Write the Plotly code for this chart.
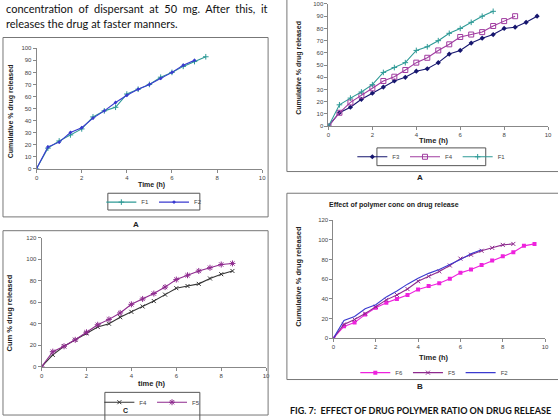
import plotly.graph_objects as go

W, H = 558, 420

# ---------------- data ----------------
t_half = [0, 0.5, 1, 1.5, 2, 2.5, 3, 3.5, 4, 4.5, 5, 5.5, 6, 6.5, 7, 7.5, 8, 8.5, 9, 9.5]

# Panel top-left (F1, F2)
tl_F1 = [0, 17, 23, 28, 33, 43, 48, 51, 62, 66, 70, 76, 80, 85, 89, 93]
tl_F2 = [0, 18, 22, 30, 34, 42, 48, 55, 61, 66, 70, 75, 80, 86, 90]

# Panel top-right (F3, F4, F1)
tr_F3 = [0, 11, 15.5, 22, 27, 32, 37, 40, 45, 47, 52, 59, 62, 68, 72, 75, 80, 81, 85, 90]
tr_F4 = [0, 11, 19.5, 25, 31, 37, 40.5, 46, 52, 56, 62, 67, 73, 75, 77, 82, 86, 90]
tr_F1 = [0, 17.5, 23, 28, 34, 44, 48, 52, 62, 65, 70, 76, 80, 85, 90, 94]

# Panel bottom-left (F4, F5)
bl_F4 = [0, 11, 19, 25, 31, 37, 40, 46, 51, 56, 61, 67, 73, 75, 77, 82, 86, 89]
bl_F5 = [0, 14, 19, 25, 32, 39, 44, 50, 58, 63, 68, 74, 81, 85, 89, 92, 95, 96]

# Panel bottom-right (F6, F5, F2)
br_F6 = [0, 12, 16, 24, 31, 36, 40, 44, 49.5, 53, 56, 60.5, 66.5, 70, 74.5, 79, 83.5, 87.5, 94, 96]
br_F5 = [0, 14, 19, 25, 32, 39, 44, 50, 58, 63, 68, 74, 81, 85, 89, 92, 95, 96]
br_F2 = [0, 18, 22, 30, 34, 42, 48, 55, 61, 66, 70, 75, 80, 86, 90]

x_ticks = [0, 2, 4, 6, 8, 10]


def px(x):
    return x / W


def py(y):
    return 1 - y / H


fig = go.Figure()

TEAL = "#2E9A96"
BLUE = "#3A3ACF"
NAVY = "#16166E"
PURP = "#A03CA0"
MAG = "#EE22DD"
DARK = "#333333"
PURP2 = "#8E2A8E"


def add(y, name, color, ax, legend, symbol=None, msize=4, mline=False):
    xs = t_half[:len(y)]
    mode = "lines+markers" if symbol else "lines"
    marker = dict(symbol=symbol or "circle", size=msize, color=color)
    if mline:
        marker["line"] = dict(width=1, color=color)
    if symbol and "open" in symbol:
        marker["line"] = dict(width=1, color=color)
    fig.add_trace(go.Scatter(x=xs, y=y, name=name, mode=mode,
                             line=dict(color=color, width=1.1),
                             marker=marker,
                             xaxis="x" + ax, yaxis="y" + ax, legend=legend))


add(tl_F1, "F1", TEAL, "", "legend", "cross-thin", 4, mline=True)
add(tl_F2, "F2", BLUE, "", "legend", "diamond", 3)

add(tr_F3, "F3", NAVY, "2", "legend2", "diamond", 4)
add(tr_F4, "F4", PURP, "2", "legend2", "square-open", 5)
add(tr_F1, "F1", TEAL, "2", "legend2", "cross-thin", 4, mline=True)

add(bl_F4, "F4", DARK, "3", "legend3", "x-thin", 4, mline=True)
add(bl_F5, "F5", PURP2, "3", "legend3", "asterisk", 5, mline=True)

add(br_F6, "F6", MAG, "4", "legend4", "square", 4)
add(br_F5, "F5", PURP2, "4", "legend4", "x-thin", 4, mline=True)
add(br_F2, "F2", BLUE, "4", "legend4", None)

tickfont = dict(family="Liberation Sans, Arial", size=6, color="#444")


def xaxis(x0, x1, anchor):
    return dict(domain=[px(x0), px(x1)], range=[0, 10], tickvals=x_ticks,
                showline=True, linecolor="#888", linewidth=1, ticks="outside",
                ticklen=3, tickcolor="#888", tickfont=tickfont, showgrid=False,
                zeroline=False, anchor=anchor, fixedrange=True)


def yaxis(y0, y1, top, dtick, anchor):
    return dict(domain=[py(y0), py(y1)], range=[0, top], dtick=dtick,
                showline=True, linecolor="#888", linewidth=1, ticks="outside",
                ticklen=3, tickcolor="#888", tickfont=tickfont, showgrid=False,
                zeroline=False, anchor=anchor, fixedrange=True)


layout = dict(
    width=W, height=H, margin=dict(l=0, r=0, t=0, b=0),
    paper_bgcolor="white", plot_bgcolor="white", showlegend=True,
    xaxis=xaxis(35, 263, "y"), yaxis=yaxis(168, 46, 100, 10, "x"),
    xaxis2=xaxis(330, 552, "y2"), yaxis2=yaxis(125, 1, 100, 10, "x2"),
    xaxis3=xaxis(40, 267, "y3"), yaxis3=yaxis(369, 238, 120, 20, "x3"),
    xaxis4=xaxis(335, 549, "y4"), yaxis4=yaxis(340, 220.5, 120, 20, "x4"),
)

legfont = dict(family="Liberation Sans, Arial", size=6, color="#444")


def leg(xc, yc):
    return dict(x=px(xc), y=py(yc), xanchor="center", yanchor="middle",
                orientation="h", font=legfont, bgcolor="rgba(0,0,0,0)",
                itemwidth=30, tracegroupgap=0, borderwidth=0)


layout["legend"] = leg(154, 202)
layout["legend2"] = leg(434, 156)
layout["legend3"] = leg(152, 405)
layout["legend4"] = leg(437, 375)
fig.update_layout(**layout)

# ---------------- boxes ----------------
shapes = []


def rect(x0, y0, x1, y1, color="#777", width=1):
    shapes.append(dict(type="rect", xref="paper", yref="paper",
                       x0=px(x0), x1=px(x1), y0=py(y0), y1=py(y1),
                       line=dict(color=color, width=width)))


rect(1, 35, 269, 217)
rect(288, -5, 565, 171)
rect(1, 231, 269, 418)
rect(288, 193, 565, 382)
rect(107, 193, 200, 210, "#555")
rect(379, 147, 489, 165, "#555")
rect(104, 395, 200, 425, "#555")
fig.update_layout(shapes=shapes)

# ---------------- texts ----------------
ann = []


def text(x, y, s, size=7, bold=False, angle=0, xanchor="center", family="Liberation Sans, Arial", color="#222"):
    ann.append(dict(xref="paper", yref="paper", x=px(x), y=py(y), text=("<b>%s</b>" % s) if bold else s,
                    showarrow=False, xanchor=xanchor, yanchor="middle", textangle=angle,
                    font=dict(size=size, family=family, color=color)))


body = "Lato, Carlito, Liberation Sans"
text(2, 6, "concentration  of  dispersant  at  50  mg.  After  this,  it", 11, xanchor="left", family=body, color="#111")
text(2, 21, "releases the drug at faster manners.", 11, xanchor="left", family=body, color="#111")

# axis titles
text(10, 110, "Cumulative % drug released", 7, True, -90)
text(151, 185, "Time (h)", 7, True)
text(300, 66, "Cumulative % drug released", 7, True, -90)
text(437, 139, "Time (h)", 7.5, True)
text(8, 314, "Cum % drug released", 7.5, True, -90)
text(152, 386, "time (h)", 7.5, True)
text(299, 277, "Cumulative % drug released", 7.5, True, -90)
text(437, 360, "Time (h)", 7.5, True)

# panel labels
text(135, 225, "A", 8, True)
text(423, 177, "A", 8, True)
text(423, 389, "B", 8, True)
text(125, 413, "C", 7, True)

text(396, 205, "Effect of polymer conc on drug release", 7, True)
text(423, 413, "FIG. 7:  EFFECT OF DRUG POLYMER RATIO ON DRUG RELEASE", 9, True, family=body, color="#111")

fig.update_layout(annotations=ann)

fig.write_html("out.html")
